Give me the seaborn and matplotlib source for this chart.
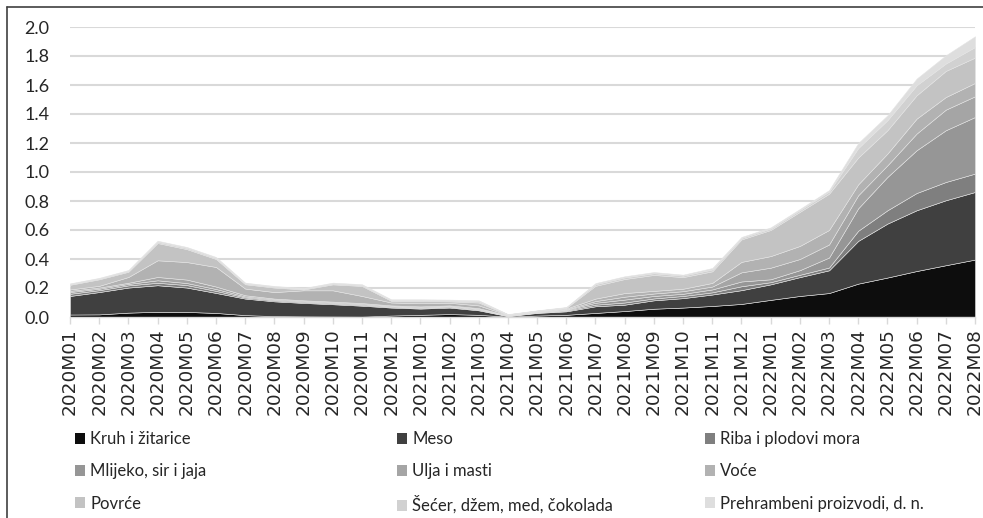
import numpy as np
import seaborn as sns
import matplotlib.pyplot as plt
from matplotlib.patches import Patch
from matplotlib.lines import Line2D

# months 2020M01 .. 2022M08
months = [f"{y}M{m:02d}" for y in (2020, 2021, 2022) for m in range(1, 13)][:32]

# contributions (stacked, bottom to top)
kruh = [.017, .018, .030, .036, .035, .028, .013, .006, .004, .003, .002, .010,
        .015, .020, .015, .002, .010, .015, .028, .041, .057, .065, .076, .090,
        .118, .145, .165, .230, .272, .317, .357, .396]
meso = [.128, .154, .173, .183, .168, .138, .114, .102, .093, .085, .076, .055,
        .043, .045, .031, .004, .018, .024, .046, .044, .058, .065, .079, .095,
        .107, .130, .157, .295, .372, .419, .448, .466]
riba = [.015, .013, .015, .017, .017, .014, .008, .007, .006, .006, .006, .005,
        .005, .005, .005, .002, .003, .005, .011, .015, .013, .015, .015, .027,
        .015, .016, .019, .070, .092, .119, .126, .127]
mlijeko = [.012, .010, .010, .017, .014, .013, .007, .006, .006, .006, .006, .005,
           .005, .005, .005, .002, .003, .005, .013, .020, .017, .015, .020, .033,
           .020, .032, .069, .155, .230, .295, .357, .390]
ulja = [.008, .008, .008, .023, .024, .017, .008, .006, .006, .006, .006, .005,
        .005, .005, .005, .002, .002, .004, .012, .020, .017, .018, .020, .063,
        .080, .077, .090, .090, .080, .115, .142, .143]
voce = [.010, .012, .040, .115, .121, .135, .046, .045, .069, .078, .049, .020,
        .022, .018, .019, .002, .003, .005, .017, .025, .018, .017, .025, .072,
        .080, .090, .100, .075, .081, .103, .087, .092]
povrce = [.032, .045, .036, .119, .089, .055, .030, .031, .006, .041, .069, .012,
          .015, .010, .020, .002, .003, .005, .088, .097, .110, .080, .080, .155,
          .180, .235, .250, .185, .161, .161, .180, .175]
secer = [.005, .005, .006, .008, .008, .007, .006, .006, .005, .006, .006, .005,
         .006, .006, .008, .002, .002, .003, .011, .011, .012, .010, .013, .010,
         .010, .012, .015, .065, .069, .069, .051, .073]
preh = [.005, .005, .006, .008, .007, .007, .005, .005, .005, .006, .006, .005,
        .006, .006, .007, .002, .002, .003, .008, .008, .008, .007, .010, .007,
        .008, .008, .010, .035, .034, .046, .057, .074]

names = ["Kruh i žitarice", "Meso", "Riba i plodovi mora",
         "Mlijeko, sir i jaja", "Ulja i masti", "Voće",
         "Povrće", "Šećer, džem, med, čokolada", "Prehrambeni proizvodi, d. n."]
series = [kruh, meso, riba, mlijeko, ulja, voce, povrce, secer, preh]
colors = ["#0d0d0d", "#404040", "#7f7f7f", "#969696", "#a5a5a5",
          "#b2b2b2", "#c3c3c3", "#d1d1d1", "#dedede"]

sns.set_theme(style="white")
plt.rcParams['font.family'] = ['Lato', 'DejaVu Sans']

W, H = 983, 518
fig = plt.figure(figsize=(W / 100, H / 100), dpi=100)
ax = fig.add_axes([70 / W, 1 - 317 / H, 905 / W, 290 / H])

x = np.arange(len(months))
ax.stackplot(x, *series, colors=colors, labels=names,
             edgecolor="#e4e4e4", linewidth=0.4)

ax.set_xlim(0, len(months) - 1)
ax.set_ylim(0, 2.0)
yt = np.round(np.arange(0, 2.01, 0.2), 1)
ax.set_yticks(yt)
ax.set_yticklabels([f"{v:.1f}" for v in yt], fontsize=13)
ax.set_xticks(x)
ax.set_xticklabels(months, rotation=90, fontsize=13.3, family="DejaVu Sans")

ax.yaxis.grid(True, color="#d9d9d9", linewidth=1.5)
ax.set_axisbelow(True)
sns.despine(ax=ax, left=True, top=True, right=True)
ax.spines["bottom"].set_color("#d9d9d9")
ax.spines["bottom"].set_linewidth(1)
ax.tick_params(axis="x", direction="out", length=5, width=1, color="#d9d9d9",
               pad=3, bottom=True)
ax.tick_params(axis="y", length=0, pad=15)

# legend, three columns filled row by row
handles = [Patch(facecolor=c, edgecolor="none") for c in colors]
col_x = [75, 397, 705]
for i in range(3):
    idx = [i, i + 3, i + 6]
    fig.legend([handles[j] for j in idx], [names[j] for j in idx],
               loc="upper left", bbox_to_anchor=(col_x[i] / W, 1 - 431 / H),
               frameon=False, fontsize=12, handlelength=0.62, handleheight=0.62,
               handletextpad=0.3, labelspacing=0.98, borderpad=0,
               borderaxespad=0)

# frame around the chart area (cut off right and bottom)
fig.add_artist(Line2D([7 / W, 7 / W], [0, 1 - 7 / H], transform=fig.transFigure,
                      color="#404040", lw=1.2))
fig.add_artist(Line2D([7 / W, 1], [1 - 7 / H, 1 - 7 / H], transform=fig.transFigure,
                      color="#404040", lw=1.2))

fig.savefig("out.png", dpi=100)
